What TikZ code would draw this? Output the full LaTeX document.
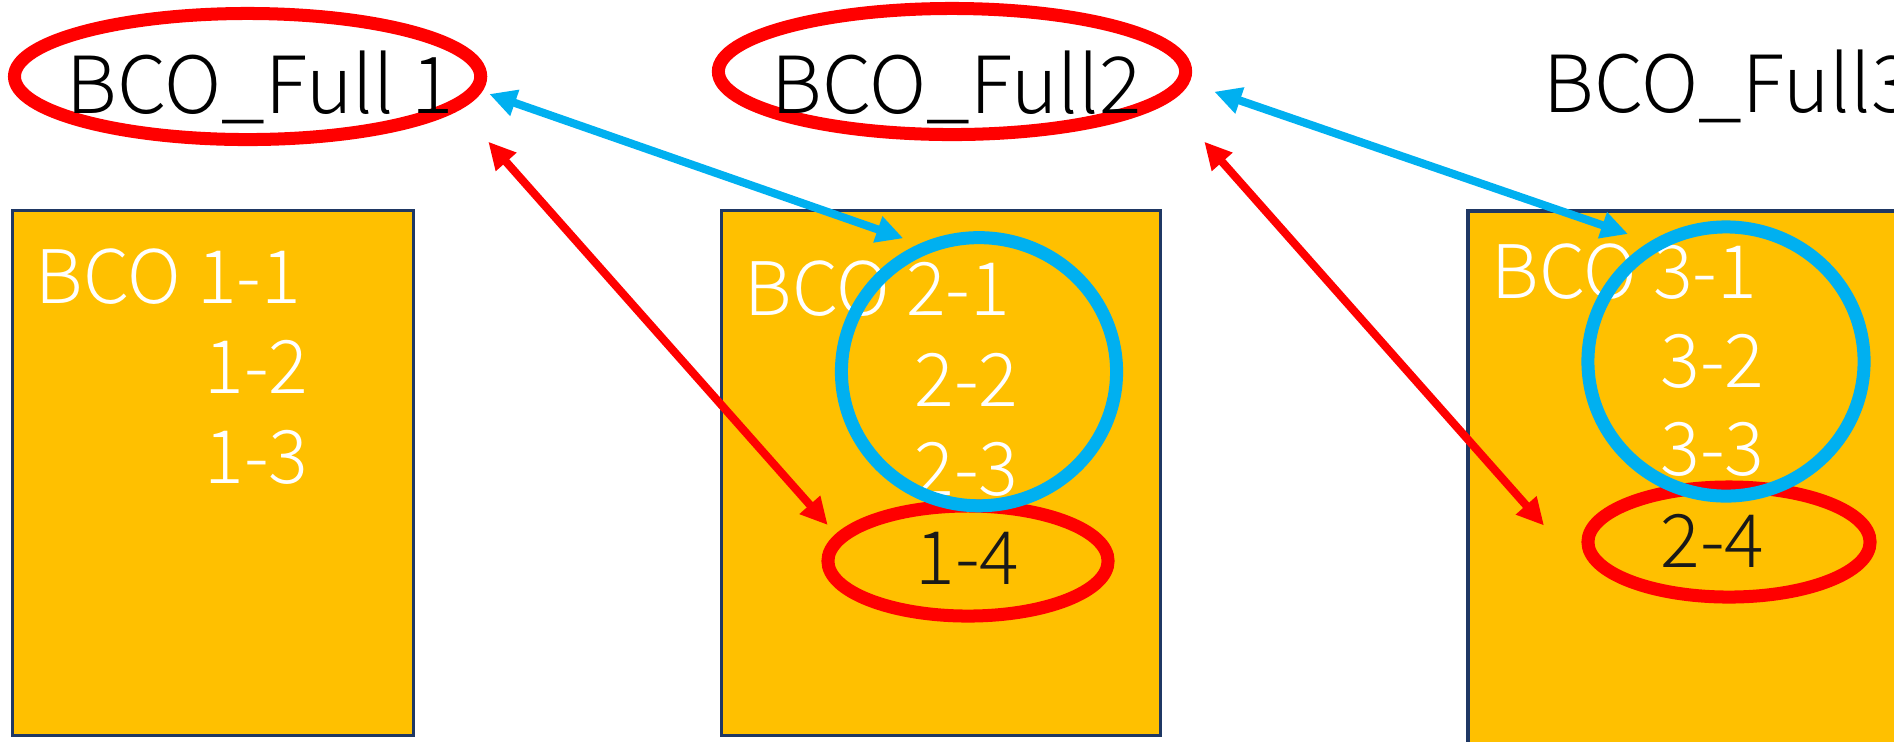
\documentclass[tikz,border=0pt]{standalone}
\usepackage{fontspec}
\newfontfamily\jpfont{Noto Sans CJK JP Light}
\usepackage{tikz}
\usetikzlibrary{shapes, arrows.meta, positioning}

\definecolor{bcogold}{HTML}{FFC000}
\definecolor{bconavy}{HTML}{1F3864}
\definecolor{bcored}{HTML}{FF0000}
\definecolor{bcoblue}{HTML}{00B0F0}

\begin{document}
\begin{tikzpicture}[x=0.01cm, y=-0.01cm, >={Triangle[length=2.7mm, width=2.6mm]}]
    % Stili
    \tikzstyle{box} = [draw=bconavy, fill=bcogold, line width=0.9pt, rectangle, inner sep=0pt, outer sep=0pt]
    \tikzstyle{lab} = [font=\jpfont\fontsize{21}{26}\selectfont, anchor=base west, inner sep=0pt]
    \tikzstyle{title} = [lab, font=\jpfont\fontsize{22.4}{27}\selectfont]
    \tikzstyle{ring} = [draw, ellipse, line width=3.7pt, inner sep=0pt, outer sep=0pt]
    \tikzstyle{link} = [<->, line width=2.3pt]

    \useasboundingbox (0,0) rectangle (1894,741);
    \clip (0,0) rectangle (1894,741);

    % Riquadri
    \node [box, minimum width=4cm, minimum height=5.24cm] (box1) at (213,473) {};
    \node [box, minimum width=4.38cm, minimum height=5.24cm] (box2) at (941,473) {};
    \node [box, minimum width=4.38cm, minimum height=6cm, anchor=north west] (box3) at (1468,211) {};

    % Titoli
    \node [ring, draw=bcored, minimum width=4.66cm, minimum height=1.26cm] (full1) at (247.6,76.5) {};
    \node [ring, draw=bcored, minimum width=4.67cm, minimum height=1.26cm] (full2) at (952,71.5) {};
    \node [title] (t1) at (66,113) {BCO\_Full 1};
    \node [title] (t2) at (771,113) {BCO\_Full2};
    \node [title] (t3) at (1543,112) {BCO\_Full3};

    % Voci nei riquadri
    \node [lab, white] (b11) at (35,303.5) {BCO 1-1};
    \node [lab, white] (b12) at (204,393) {1-2};
    \node [lab, white] (b13) at (204,483) {1-3};
    \node [lab, white] (b21) at (744,315.6) {BCO 2-1};
    \node [lab, white] (b22) at (914,406) {2-2};
    \node [lab, white] (b23) at (914,495) {2-3};
    \node [lab, text=black!90] (b14) at (915,584.7) {1-4};
    \node [lab, white] (b31) at (1491,298) {BCO 3-1};
    \node [lab, white] (b32) at (1660,387.5) {3-2};
    \node [lab, white] (b33) at (1660,475) {3-3};
    \node [lab, text=black!90] (b24) at (1660,567) {2-4};

    % Cerchi di selezione
    \node [ring, draw=bcored, minimum width=2.8cm, minimum height=1.1cm] (sel14) at (968,561) {};
    \node [ring, draw=bcored, minimum width=2.82cm, minimum height=1.1cm] (sel24) at (1729,542) {};
    \node [ring, draw=bcoblue, minimum width=2.75cm, minimum height=2.68cm] (grp2) at (979,371.7) {};
    \node [ring, draw=bcoblue, minimum width=2.76cm, minimum height=2.69cm] (grp3) at (1726,361.5) {};

    % Estremi delle frecce (staccati dai bordi)
    \coordinate (f1blue) at (489.3,94);
    \coordinate (f1red) at (488.3,141.7);
    \coordinate (f2blue) at (1214.3,91.7);
    \coordinate (f2red) at (1204.3,141.7);
    \coordinate (g2top) at (903.3,238.3);
    \coordinate (s14left) at (827.7,525);
    \coordinate (g3top) at (1628,234);
    \coordinate (s24left) at (1544,525.5);

    % Collegamenti
    \draw [link, bcoblue] (f1blue) -- (g2top);
    \draw [link, bcored] (f1red) -- (s14left);
    \draw [link, bcoblue] (f2blue) -- (g3top);
    \draw [link, bcored] (f2red) -- (s24left);
\end{tikzpicture}
\end{document}
